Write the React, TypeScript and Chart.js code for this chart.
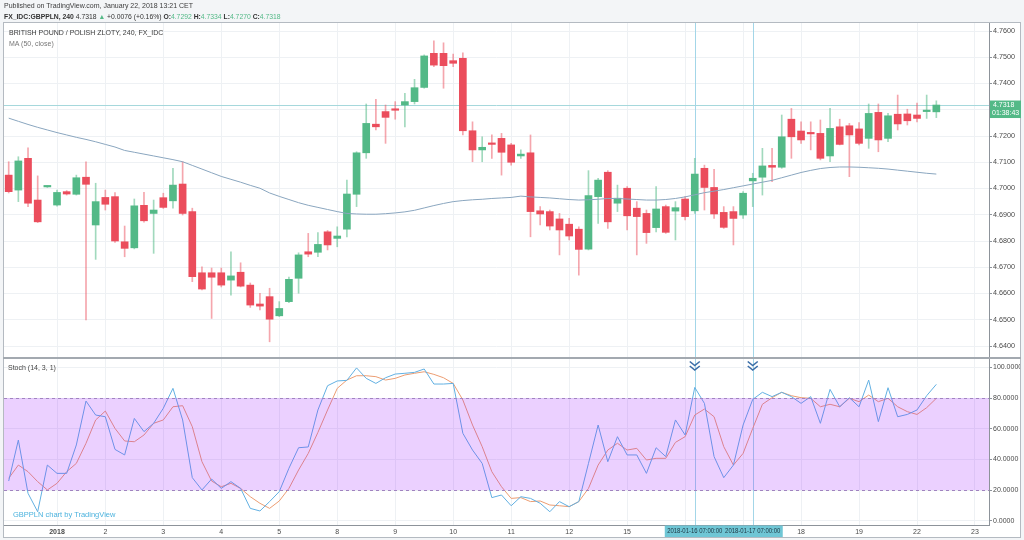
import React, { useEffect, useRef } from "react";
import { Chart, registerables } from "chart.js";

Chart.register(...registerables);

const FONT = "'Liberation Sans', Arial, Helvetica, sans-serif";

// ---- 4h candles, GBPPLN (index 0 = first visible bar) ----
const opens = [
  4.7051, 4.6994, 4.7115, 4.6956, 4.7006, 4.6937, 4.6988, 4.6978, 4.7043, 4.6861,
  4.6966, 4.6969, 4.6797, 4.6774, 4.6936, 4.6905, 4.6965, 4.6953, 4.7017, 4.6912,
  4.6679, 4.6679, 4.6679, 4.6651, 4.6681, 4.6632, 4.656, 4.6588, 4.6515, 4.6569,
  4.6658, 4.6759, 4.6757, 4.6835, 4.681, 4.6845, 4.6978, 4.7136, 4.7245, 4.7293,
  4.7303, 4.7318, 4.7331, 4.7385, 4.7515, 4.7515, 4.7487, 4.7496, 4.722, 4.7147,
  4.7171, 4.7191, 4.7166, 4.7124, 4.7136, 4.6915, 4.6912, 4.6884, 4.6864, 4.6845,
  4.6769, 4.6969, 4.7062, 4.6944, 4.7001, 4.6925, 4.6905, 4.6851, 4.6931, 4.6914,
  4.696, 4.6915, 4.7077, 4.7004, 4.6909, 4.6912, 4.6899, 4.7029, 4.7043, 4.7088,
  4.7081, 4.7264, 4.7219, 4.7211, 4.721, 4.7124, 4.7235, 4.7239, 4.7227, 4.7191,
  4.729, 4.7191, 4.7283, 4.7284, 4.728, 4.7293, 4.7292,
];
const highs = [
  4.7102, 4.7121, 4.7155, 4.7048, 4.701, 4.6994, 4.6992, 4.7051, 4.7102, 4.702,
  4.6994, 4.6984, 4.6857, 4.696, 4.6985, 4.6956, 4.6982, 4.7077, 4.7102, 4.6925,
  4.6702, 4.6697, 4.6697, 4.6759, 4.6717, 4.664, 4.6601, 4.662, 4.6569, 4.6663,
  4.6755, 4.6829, 4.6832, 4.684, 4.6854, 4.7032, 4.714, 4.7322, 4.734, 4.7318,
  4.7331, 4.7363, 4.7416, 4.7509, 4.7563, 4.7555, 4.7512, 4.7517, 4.7254, 4.7197,
  4.7204, 4.721, 4.7172, 4.7147, 4.7204, 4.6931, 4.6918, 4.6905, 4.6886, 4.6854,
  4.7068, 4.7039, 4.7068, 4.7013, 4.7007, 4.695, 4.6918, 4.7007, 4.6937, 4.695,
  4.6969, 4.7115, 4.7089, 4.7073, 4.6931, 4.6931, 4.6988, 4.7058, 4.7153, 4.7153,
  4.728, 4.7305, 4.7254, 4.7254, 4.7261, 4.7305, 4.7264, 4.7248, 4.7251, 4.7322,
  4.7322, 4.7286, 4.7356, 4.7302, 4.7325, 4.7356, 4.7334,
];
const lows = [
  4.6983, 4.695, 4.6931, 4.687, 4.7004, 4.6933, 4.6975, 4.6975, 4.6499, 4.673,
  4.6918, 4.6795, 4.674, 4.677, 4.6872, 4.6753, 4.6924, 4.6925, 4.6899, 4.6645,
  4.6614, 4.6505, 4.6625, 4.6594, 4.6625, 4.6547, 4.6537, 4.6416, 4.6512, 4.6565,
  4.6601, 4.674, 4.674, 4.6766, 4.6778, 4.6816, 4.6931, 4.7115, 4.7223, 4.7172,
  4.7264, 4.7235, 4.7322, 4.7382, 4.7464, 4.7382, 4.7464, 4.7204, 4.7102, 4.7102,
  4.7115, 4.7051, 4.7089, 4.7115, 4.6816, 4.6861, 4.6842, 4.6747, 4.6804, 4.667,
  4.6766, 4.6867, 4.6848, 4.6912, 4.6842, 4.6747, 4.6791, 4.6835, 4.6829, 4.6804,
  4.688, 4.6905, 4.6918, 4.6886, 4.6848, 4.6785, 4.6886, 4.6931, 4.6975, 4.7026,
  4.7077, 4.7115, 4.7172, 4.7147, 4.7109, 4.7102, 4.7166, 4.7045, 4.7166, 4.7153,
  4.714, 4.7178, 4.7223, 4.7242, 4.7254, 4.7267, 4.727,
];
const closes = [
  4.6988, 4.7105, 4.6944, 4.6873, 4.7008, 4.6985, 4.6979, 4.7041, 4.7016, 4.695,
  4.694, 4.68, 4.6772, 4.6934, 4.6877, 4.6918, 4.6928, 4.7013, 4.6905, 4.6664,
  4.6617, 4.6662, 4.6632, 4.6667, 4.6628, 4.6556, 4.6552, 4.6502, 4.6543, 4.6654,
  4.6747, 4.675, 4.6787, 4.6785, 4.6819, 4.6979, 4.7136, 4.7248, 4.7235, 4.7271,
  4.7298, 4.7331, 4.7384, 4.7505, 4.747, 4.7468, 4.7477, 4.722, 4.7147, 4.7157,
  4.7168, 4.7138, 4.71, 4.7131, 4.6912, 4.6903, 4.6857, 4.6842, 4.6819, 4.6768,
  4.6973, 4.7032, 4.6873, 4.6963, 4.6896, 4.6893, 4.6832, 4.6922, 4.6833, 4.6927,
  4.6893, 4.7055, 4.7004, 4.6903, 4.6852, 4.6886, 4.6982, 4.7039, 4.7086, 4.7081,
  4.7197, 4.7197, 4.7185, 4.7208, 4.7115, 4.7229, 4.7168, 4.7204, 4.7172, 4.7286,
  4.7185, 4.7277, 4.7246, 4.7258, 4.7267, 4.7296, 4.7318,
];
// MA (50, close)
const ma50 = [
  4.7268, 4.7256, 4.7244, 4.7233, 4.7223, 4.7213, 4.7204, 4.7195, 4.7187, 4.7178,
  4.7168, 4.7158, 4.7145, 4.7138, 4.7131, 4.7124, 4.7117, 4.711, 4.7102, 4.7088,
  4.7074, 4.706, 4.7046, 4.7035, 4.7024, 4.7012, 4.7001, 4.6983, 4.697, 4.6958,
  4.6946, 4.6936, 4.6928, 4.692, 4.6912, 4.6905, 4.6903, 4.6902, 4.6902, 4.6904,
  4.6907, 4.6911, 4.6917, 4.6926, 4.6935, 4.6943, 4.695, 4.6954, 4.6957, 4.6959,
  4.6962, 4.6964, 4.6966, 4.6971, 4.6968, 4.6966, 4.6964, 4.6961, 4.6958, 4.6956,
  4.6957, 4.6959, 4.6962, 4.6962, 4.696, 4.6958, 4.6956, 4.6956, 4.6958, 4.6962,
  4.6968, 4.6976, 4.6984, 4.699, 4.6996, 4.7003, 4.701, 4.7017, 4.7024, 4.7031,
  4.7041, 4.7051, 4.7061, 4.7069, 4.7076, 4.708, 4.7082, 4.7082, 4.7081, 4.7079,
  4.7077, 4.7074, 4.707, 4.7066, 4.7062, 4.7058, 4.7055,
];
// Stoch (14, 3, 1)
const stochK = [
  25.9, 52.6, 17.9, 5.9, 36.3, 30.9, 30.9, 49.4, 78.0, 68.9,
  67.8, 46.5, 42.9, 66.7, 58.1, 63.5, 73.3, 86.3, 65.7, 28.1,
  20.1, 27.2, 21.1, 25.5, 21.1, 8.1, 6.4, 12.5, 19.0, 34.2,
  47.6, 48.1, 72.2, 88.0, 91.1, 91.5, 99.6, 92.8, 89.5, 93.2,
  95.6, 96.1, 96.7, 98.9, 89.1, 89.1, 89.5, 57.0, 46.1, 37.4,
  15.1, 16.8, 9.8, 15.7, 14.6, 11.4, 5.9, 12.5, 9.2, 12.5,
  37.4, 62.4, 38.5, 54.8, 42.9, 42.9, 30.9, 47.6, 41.8, 65.7,
  55.9, 86.9, 76.5, 41.8, 28.1, 36.3, 62.4, 79.1, 83.7, 80.9,
  83.7, 80.9, 76.5, 80.9, 63.5, 85.6, 74.3, 80.2, 74.3, 91.7,
  64.6, 86.7, 67.8, 69.3, 72.2, 81.5, 88.9,
];
const stochD = [
  27.7, 36.3, 32.0, 25.5, 20.1, 24.4, 32.0, 37.4, 50.5, 65.7,
  71.5, 60.2, 52.0, 51.5, 55.9, 63.5, 65.7, 74.3, 75.0, 61.3,
  38.5, 25.9, 22.2, 24.4, 21.1, 15.7, 11.4, 8.1, 12.9, 21.1,
  33.1, 43.9, 57.6, 72.2, 86.3, 91.7, 94.5, 94.5, 93.9, 91.7,
  92.8, 95.0, 96.1, 97.1, 95.4, 93.2, 89.5, 78.7, 62.4, 48.3,
  32.0, 22.2, 14.6, 15.1, 12.5, 12.9, 10.3, 9.8, 9.2, 12.5,
  21.1, 36.3, 46.1, 50.5, 46.1, 47.2, 39.6, 40.7, 40.7, 51.1,
  54.8, 68.9, 72.8, 67.8, 48.3, 36.3, 43.9, 60.2, 75.9, 80.2,
  83.7, 81.5, 80.2, 79.8, 74.3, 75.9, 74.3, 79.8, 77.6, 81.9,
  77.6, 79.8, 74.3, 71.1, 69.3, 73.7, 79.8,
];

const dayTickIndex = [5, 10, 16, 22, 28, 34, 40, 46, 52, 58, 64, 70, 76, 82, 88, 94, 100];
const dayTickLabels = ["2018", "2", "3", "4", "5", "8", "9", "10", "11", "12", "15", "16", "17", "18", "19", "22", "23"];
const priceTicks = [4.64, 4.65, 4.66, 4.67, 4.68, 4.69, 4.7, 4.71, 4.72, 4.73, 4.74, 4.75, 4.76];
const stochTicks = [0, 20, 40, 60, 80, 100];
const markerIndex = [71, 77];
const markerLabels = ["2018-01-16 07:00:00", "2018-01-17 07:00:00"];
const lastPrice = 4.7318;
const countdown = "01:38:43";
const bandLow = 20;
const bandHigh = 80;

const X_MIN = -0.486;
const X_MAX = 101.45;
const PRICE_MIN = 4.63581;
const PRICE_MAX = 4.763048;
const STOCH_MIN = -2.74;
const STOCH_MAX = 105.41;

const GREEN = "#53b987";
const RED = "#eb4d5c";
const GRID = "#eef1f4";
const AXIS = "#8d939a";
const TEXT = "#4a4a4a";
const K_COLOR = "#62b0e2";
const D_COLOR = "#ec9d72";

const mainPlugin = {
  id: "mainDecor",
  beforeDatasetsDraw(chart: any) {
    const { ctx, chartArea: a, scales } = chart;
    ctx.save();
    ctx.lineWidth = 1;
    const py = Math.round(scales.y.getPixelForValue(lastPrice)) + 0.5;
    ctx.strokeStyle = "#a6d8dc";
    ctx.beginPath();
    ctx.moveTo(a.left, py);
    ctx.lineTo(a.right, py);
    ctx.stroke();
    ctx.strokeStyle = "#a3d6e8";
    markerIndex.forEach((m) => {
      const px = Math.round(scales.x.getPixelForValue(m)) + 0.5;
      ctx.beginPath();
      ctx.moveTo(px, a.top);
      ctx.lineTo(px, a.bottom);
      ctx.stroke();
    });
    ctx.restore();
  },
  afterDraw(chart: any) {
    const { ctx, chartArea: a, scales } = chart;
    const py = scales.y.getPixelForValue(lastPrice);
    ctx.save();
    ctx.fillStyle = GREEN;
    ctx.fillRect(a.right + 1, py - 4.5, 31, 17.5);
    ctx.fillStyle = "#ffffff";
    ctx.font = `7px ${FONT}`;
    ctx.textBaseline = "middle";
    ctx.textAlign = "left";
    ctx.fillText(lastPrice.toFixed(4), a.right + 4, py);
    ctx.fillText(countdown, a.right + 3, py + 8.5);
    ctx.restore();
  },
};

const stochPlugin = {
  id: "stochDecor",
  beforeDatasetsDraw(chart: any) {
    const { ctx, chartArea: a, scales } = chart;
    ctx.save();
    ctx.lineWidth = 1;
    ctx.strokeStyle = "#a3d6e8";
    markerIndex.forEach((m) => {
      const px = Math.round(scales.x.getPixelForValue(m)) + 0.5;
      ctx.beginPath();
      ctx.moveTo(px, a.top);
      ctx.lineTo(px, a.bottom);
      ctx.stroke();
    });
    ctx.restore();
  },
  afterDatasetsDraw(chart: any) {
    const { ctx, chartArea: a, scales } = chart;
    const yHi = scales.y.getPixelForValue(bandHigh);
    const yLo = scales.y.getPixelForValue(bandLow);
    ctx.save();
    ctx.fillStyle = "rgba(153, 21, 255, 0.2)";
    ctx.fillRect(a.left, yHi, a.right - a.left, yLo - yHi);
    ctx.strokeStyle = "#a183c0";
    ctx.lineWidth = 1;
    ctx.setLineDash([3, 3]);
    [yHi, yLo].forEach((yy) => {
      const y = Math.round(yy) + 0.5;
      ctx.beginPath();
      ctx.moveTo(a.left, y);
      ctx.lineTo(a.right, y);
      ctx.stroke();
    });
    ctx.setLineDash([]);
    ctx.strokeStyle = "#3b6ea8";
    ctx.lineWidth = 1.6;
    markerIndex.forEach((m) => {
      const px = scales.x.getPixelForValue(m);
      for (let k = 0; k < 2; k++) {
        const y0 = a.top + 2.5 + k * 4.5;
        ctx.beginPath();
        ctx.moveTo(px - 5, y0);
        ctx.lineTo(px, y0 + 4);
        ctx.lineTo(px + 5, y0);
        ctx.stroke();
      }
    });
    ctx.restore();
  },
  afterDraw(chart: any) {
    const { ctx, chartArea: a, scales } = chart;
    ctx.save();
    ctx.font = `7px ${FONT}`;
    markerIndex.forEach((m, k) => {
      const px = scales.x.getPixelForValue(m);
      const w = 60;
      ctx.fillStyle = "#6fc6d5";
      ctx.fillRect(px - w / 2, a.bottom + 0.5, w, 11.5);
      ctx.save();
      ctx.translate(px, a.bottom + 6.5);
      ctx.scale(0.85, 1);
      ctx.fillStyle = "#1d3542";
      ctx.textAlign = "center";
      ctx.textBaseline = "middle";
      ctx.fillText(markerLabels[k], 0, 0);
      ctx.restore();
    });
    ctx.restore();
  },
};

function dayTicks(s: any) {
  s.ticks = dayTickIndex.map((v) => ({ value: v }));
}

function noPad(s: any) {
  s.paddingTop = 0;
  s.paddingBottom = 0;
  s.paddingLeft = 0;
  s.paddingRight = 0;
}

export default function App() {
  const mainRef = useRef<HTMLCanvasElement>(null);
  const stochRef = useRef<HTMLCanvasElement>(null);

  useEffect(() => {
    const up = opens.map((o, i) => closes[i] >= o);
    const main = new Chart(mainRef.current as HTMLCanvasElement, {
      type: "bar",
      data: {
        datasets: [
          {
            type: "line",
            label: "MA (50, close)",
            data: ma50.map((v, i) => ({ x: i, y: v })),
            borderColor: "#8aa6bf",
            borderWidth: 1,
            pointRadius: 0,
            tension: 0,
          } as any,
          {
            type: "bar",
            label: "bodies",
            data: opens.map((o, i) => ({ x: i, y: [Math.min(o, closes[i]), Math.max(o, closes[i])] })),
            backgroundColor: up.map((u) => (u ? GREEN : RED)),
            barThickness: 7,
            grouped: false,
            minBarLength: 1.5,
          } as any,
          {
            type: "bar",
            label: "wicks",
            data: lows.map((l, i) => ({ x: i, y: [l, highs[i]] })),
            backgroundColor: up.map((u) => (u ? "rgba(83,185,135,0.55)" : "rgba(235,77,92,0.5)")),
            barThickness: 1,
            grouped: false,
          } as any,
        ],
      },
      options: {
        responsive: false,
        animation: false,
        layout: { padding: { top: 23, left: 4, right: 4, bottom: 0 } },
        plugins: { legend: { display: false }, tooltip: { enabled: false } },
        scales: {
          x: {
            type: "linear",
            min: X_MIN,
            max: X_MAX,
            offset: false,
            grid: { color: GRID, drawTicks: false, offset: false },
            border: { display: false },
            ticks: { display: false },
            afterBuildTicks: dayTicks,
            afterFit: (s: any) => {
              noPad(s);
              s.height = 0;
            },
          },
          y: {
            position: "right",
            min: PRICE_MIN,
            max: PRICE_MAX,
            grid: { color: GRID, drawTicks: true, tickLength: 3, tickColor: AXIS },
            border: { display: true, color: AXIS },
            ticks: {
              padding: 1,
              color: TEXT,
              font: { family: FONT, size: 7.2 },
              callback: (v: any) => Number(v).toFixed(4),
            },
            afterBuildTicks: (s: any) => {
              s.ticks = priceTicks.map((v) => ({ value: v }));
            },
            afterFit: (s: any) => {
              noPad(s);
              s.width = 31;
            },
          },
        },
      } as any,
      plugins: [mainPlugin],
    });

    const stoch = new Chart(stochRef.current as HTMLCanvasElement, {
      type: "line",
      data: {
        datasets: [
          {
            label: "%K",
            data: stochK.map((v, i) => ({ x: i, y: v })),
            borderColor: K_COLOR,
            borderWidth: 1,
            pointRadius: 0,
            tension: 0,
          },
          {
            label: "%D",
            data: stochD.map((v, i) => ({ x: i, y: v })),
            borderColor: D_COLOR,
            borderWidth: 1,
            pointRadius: 0,
            tension: 0,
          },
        ],
      },
      options: {
        responsive: false,
        animation: false,
        layout: { padding: { top: 0, left: 4, right: 4, bottom: 2 } },
        plugins: { legend: { display: false }, tooltip: { enabled: false } },
        scales: {
          x: {
            type: "linear",
            min: X_MIN,
            max: X_MAX,
            grid: { color: GRID, drawTicks: false },
            border: { display: true, color: AXIS },
            ticks: {
              padding: 3,
              color: TEXT,
              autoSkip: false,
              maxRotation: 0,
              minRotation: 0,
              font: (c: any) => ({ family: FONT, size: 7, weight: c.index === 0 ? "bold" : "normal" }),
              callback: (_v: any, i: number) => dayTickLabels[i],
            },
            afterBuildTicks: dayTicks,
            afterFit: (s: any) => {
              noPad(s);
              s.height = 13;
            },
          },
          y: {
            position: "right",
            min: STOCH_MIN,
            max: STOCH_MAX,
            grid: { color: GRID, drawTicks: true, tickLength: 3, tickColor: AXIS },
            border: { display: true, color: AXIS },
            ticks: {
              padding: 1,
              color: TEXT,
              font: { family: FONT, size: 7 },
              callback: (v: any) => Number(v).toFixed(4),
            },
            afterBuildTicks: (s: any) => {
              s.ticks = stochTicks.map((v) => ({ value: v }));
            },
            afterFit: (s: any) => {
              noPad(s);
              s.width = 31;
            },
          },
        },
      } as any,
      plugins: [stochPlugin],
    });

    return () => {
      main.destroy();
      stoch.destroy();
    };
  }, []);

  const txt: React.CSSProperties = {
    position: "absolute",
    fontFamily: FONT,
    whiteSpace: "nowrap",
    lineHeight: "9px",
  };
  const g: React.CSSProperties = { color: GREEN };

  return (
    <div
      style={{
        position: "fixed",
        left: 0,
        top: 0,
        width: 1024,
        height: 540,
        background: "#f3f5f7",
        overflow: "hidden",
      }}
    >
      <div
        style={{
          position: "absolute",
          left: 3,
          top: 22,
          width: 1018,
          height: 516,
          boxSizing: "border-box",
          border: "1px solid #b4bac1",
          background: "#ffffff",
        }}
      />
      <canvas
        ref={mainRef}
        width={1024}
        height={357}
        style={{ position: "absolute", left: 0, top: 0, width: 1024, height: 357 }}
      />
      <div style={{ position: "absolute", left: 3, top: 357, width: 1018, height: 2, background: "#a3a9b0" }} />
      <canvas
        ref={stochRef}
        width={1024}
        height={181}
        style={{ position: "absolute", left: 0, top: 359, width: 1024, height: 181 }}
      />
      <div style={{ ...txt, left: 4, top: 1, fontSize: 7, color: "#3c3c3c" }}>
        Published on TradingView.com, January 22, 2018 13:21 CET
      </div>
      <div style={{ ...txt, left: 4, top: 12, fontSize: 6.8, color: "#333" }}>
        <b>FX_IDC:GBPPLN, 240</b> 4.7318 <span style={g}>▲</span> +0.0076 (+0.16%) <b>O:</b>
        <span style={g}>4.7292</span> <b>H:</b>
        <span style={g}>4.7334</span> <b>L:</b>
        <span style={g}>4.7270</span> <b>C:</b>
        <span style={g}>4.7318</span>
      </div>
      <div style={{ ...txt, left: 9, top: 28, fontSize: 7, color: "#3a3a3a" }}>
        BRITISH POUND / POLISH ZLOTY, 240, FX_IDC
      </div>
      <div style={{ ...txt, left: 9, top: 39, fontSize: 7, color: "#777" }}>MA (50, close)</div>
      <div style={{ ...txt, left: 8, top: 363, fontSize: 7, color: "#444" }}>Stoch (14, 3, 1)</div>
      <div style={{ ...txt, left: 13, top: 510, fontSize: 7.5, color: "#4db3de" }}>GBPPLN chart by TradingView</div>
    </div>
  );
}
